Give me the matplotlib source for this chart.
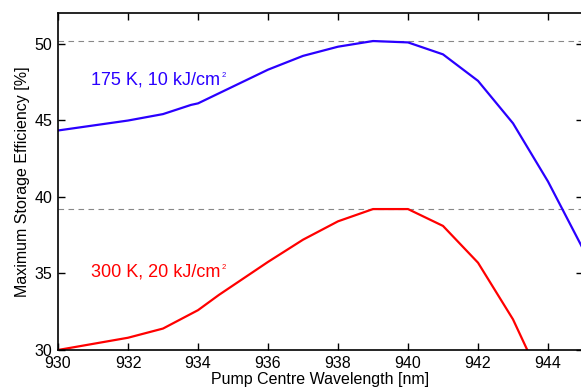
import matplotlib
matplotlib.use("Agg")
import matplotlib.pyplot as plt

plt.rcParams["font.family"] = ["Liberation Sans", "DejaVu Sans"]

# pump wavelength (nm) and max storage efficiency (%)
wl_175 = [930, 932, 933, 933.8, 934, 935, 936, 937, 938, 939, 940, 941, 942, 943, 944, 945, 946]
eff_175 = [44.33, 44.98, 45.4, 46.0, 46.1, 47.2, 48.3, 49.2, 49.8, 50.17, 50.08, 49.3, 47.57, 44.8, 41.0, 36.6, 32.0]

wl_300 = [930, 932, 933, 934, 934.6, 936, 937, 938, 939, 940, 941, 942, 943, 944]
eff_300 = [30.0, 30.8, 31.4, 32.6, 33.6, 35.75, 37.2, 38.4, 39.2, 39.2, 38.1, 35.7, 32.0, 27.1]

max_175 = 50.15
max_300 = 39.2

labels = [("175 K, 10 kJ/cm", 47.6, "#2a00ff"), ("300 K, 20 kJ/cm", 35.1, "#ff0000")]

fig = plt.figure(figsize=(5.81, 3.9), dpi=100)
ax = fig.add_axes([58 / 581, 40 / 390, 525 / 581, 337 / 390])

ax.axhline(max_175, color="#888888", linestyle=(0, (5, 4)), linewidth=0.8)
ax.axhline(max_300, color="#888888", linestyle=(0, (5, 4)), linewidth=0.8)
ax.plot(wl_175, eff_175, color="#2a00ff", linewidth=1.6)
ax.plot(wl_300, eff_300, color="#ff0000", linewidth=1.6)

ax.set_xlim(930, 945)
ax.set_ylim(30, 52)
ax.set_xticks(range(930, 946, 2))
ax.set_yticks([30, 35, 40, 45, 50])
ax.tick_params(direction="in", top=True, right=True, length=5, width=1,
               labelsize=11.5, pad=4)
for s in ax.spines.values():
    s.set_linewidth(1.2)

ax.set_xlabel("Pump Centre Wavelength [nm]", fontsize=11.5, labelpad=1)
ax.set_ylabel("Maximum Storage Efficiency [%]", fontsize=11.5, labelpad=3)

# curve labels with a tiny superscript 2 after them
renderer = fig.canvas.get_renderer()
for txt, yv, col in labels:
    t = ax.text(930.95, yv, txt, color=col, fontsize=13, va="center")
    bb = t.get_window_extent(renderer=renderer)
    fig.text((bb.x1 + 1) / fig.bbox.width, (bb.y1 - 0.5) / fig.bbox.height, "2",
             color=col, fontsize=5.5, va="top", ha="left")

fig.savefig("out.png", dpi=100)
